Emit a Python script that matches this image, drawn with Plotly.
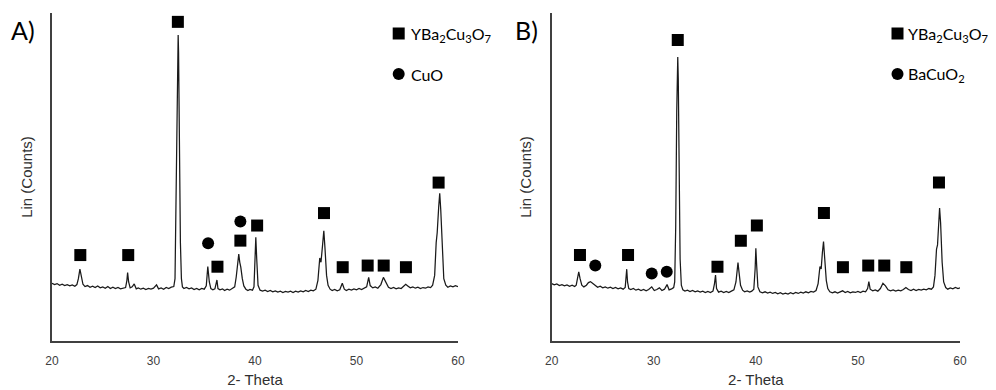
import plotly.graph_objects as go

# ---------------- data ----------------
scan_a = [
    (20.0, 17.6), (20.25, 17.2), (20.5, 17.5), (20.75, 17.0), (21.0, 17.3), (21.25, 16.9),
    (21.5, 17.2), (21.75, 16.8), (22.0, 17.1), (22.25, 16.7), (22.45, 17.2), (22.6, 19.0),
    (22.75, 21.9), (22.9, 19.2), (23.05, 17.3), (23.25, 16.6), (23.5, 16.9), (23.75, 16.4),
    (24.0, 16.7), (24.25, 16.3), (24.5, 16.8), (24.75, 16.2), (25.0, 16.5), (25.25, 16.1),
    (25.5, 16.6), (25.75, 16.0), (26.0, 16.4), (26.25, 16.0), (26.5, 16.3), (26.75, 15.9),
    (27.0, 16.2), (27.25, 16.3), (27.38, 18.5), (27.45, 20.9), (27.55, 18.0), (27.7, 16.2),
    (27.9, 16.5), (28.1, 17.4), (28.3, 15.9), (28.5, 16.2), (28.75, 15.8), (29.0, 16.1),
    (29.25, 15.7), (29.5, 16.0), (29.75, 15.8), (30.0, 16.1), (30.3, 17.1), (30.5, 15.9),
    (30.75, 16.2), (31.0, 15.8), (31.25, 16.3), (31.5, 16.0), (31.75, 16.4), (32.0, 16.6),
    (32.12, 19.0), (32.22, 40.0), (32.32, 75.0), (32.4, 90.0), (32.43, 93.3), (32.47, 88.0),
    (32.55, 60.0), (32.65, 30.0), (32.75, 19.0), (32.85, 16.5), (33.0, 16.0), (33.25, 16.3),
    (33.5, 15.9), (33.75, 16.2), (34.0, 15.7), (34.25, 16.0), (34.5, 15.6), (34.75, 16.0),
    (35.0, 15.8), (35.2, 16.8), (35.35, 22.7), (35.5, 18.0), (35.65, 16.0), (35.85, 15.6),
    (36.05, 15.9), (36.25, 18.6), (36.35, 16.0), (36.55, 15.6), (36.8, 15.9), (37.0, 15.4),
    (37.25, 15.8), (37.5, 15.5), (37.75, 16.0), (38.0, 16.5), (38.15, 19.5), (38.3, 24.5),
    (38.4, 26.5), (38.5, 24.0), (38.6, 22.5), (38.75, 19.0), (38.9, 16.8), (39.1, 15.8),
    (39.3, 15.4), (39.5, 15.7), (39.75, 15.5), (39.9, 16.5), (40.0, 24.0), (40.08, 31.6),
    (40.17, 25.0), (40.3, 17.0), (40.5, 15.5), (40.75, 15.2), (41.0, 15.5), (41.25, 15.1),
    (41.5, 15.4), (41.75, 15.0), (42.0, 15.3), (42.25, 14.9), (42.5, 15.2), (42.75, 14.8),
    (43.0, 15.1), (43.25, 14.9), (43.5, 15.2), (43.75, 14.8), (44.0, 15.2), (44.25, 14.9),
    (44.5, 15.3), (44.75, 15.0), (45.0, 15.4), (45.25, 15.1), (45.5, 15.5), (45.75, 15.3),
    (46.0, 15.8), (46.2, 18.5), (46.38, 25.3), (46.5, 24.0), (46.65, 29.0), (46.78, 33.6),
    (46.9, 28.0), (47.05, 20.0), (47.2, 17.0), (47.4, 15.8), (47.6, 15.4), (47.85, 15.7),
    (48.1, 15.3), (48.35, 15.6), (48.6, 17.6), (48.8, 15.8), (49.0, 15.4), (49.25, 15.8),
    (49.5, 15.5), (49.75, 15.9), (50.0, 15.6), (50.25, 16.0), (50.5, 15.7), (50.75, 16.1),
    (51.0, 16.5), (51.2, 19.4), (51.35, 16.9), (51.6, 16.2), (51.85, 16.5), (52.1, 16.1),
    (52.4, 17.2), (52.65, 19.4), (52.9, 17.8), (53.15, 16.4), (53.4, 16.0), (53.65, 16.3),
    (53.9, 15.9), (54.15, 16.2), (54.4, 16.0), (54.65, 16.7), (54.85, 17.3), (55.05, 16.8),
    (55.3, 16.2), (55.55, 16.5), (55.8, 16.1), (56.05, 16.4), (56.3, 16.0), (56.55, 16.3),
    (56.8, 16.1), (57.05, 16.5), (57.3, 16.3), (57.5, 17.0), (57.7, 20.0), (57.85, 30.0),
    (57.95, 33.0), (58.1, 41.0), (58.2, 45.0), (58.3, 40.0), (58.45, 27.0), (58.6, 19.0),
    (58.8, 17.0), (59.0, 16.4), (59.25, 16.8), (59.5, 16.5), (59.75, 16.9), (60.0, 16.6),
]

scan_b = [
    (20.0, 17.5), (20.25, 17.1), (20.5, 17.4), (20.75, 16.9), (21.0, 17.2), (21.25, 16.8),
    (21.5, 17.1), (21.75, 16.7), (22.0, 17.0), (22.25, 16.6), (22.4, 17.0), (22.52, 19.0),
    (22.65, 21.1), (22.78, 19.0), (22.95, 17.0), (23.15, 16.5), (23.4, 17.0), (23.6, 17.8),
    (23.8, 18.1), (24.0, 17.6), (24.25, 16.9), (24.5, 16.4), (24.75, 16.7), (25.0, 16.2),
    (25.25, 16.5), (25.5, 16.1), (25.75, 16.4), (26.0, 16.0), (26.25, 16.3), (26.5, 15.9),
    (26.75, 16.2), (27.0, 15.8), (27.2, 16.3), (27.28, 18.5), (27.35, 21.9), (27.43, 18.0),
    (27.55, 16.0), (27.75, 15.7), (28.0, 16.0), (28.25, 15.5), (28.5, 15.8), (28.75, 15.4),
    (29.0, 15.7), (29.25, 15.3), (29.5, 15.7), (29.8, 16.5), (30.05, 15.4), (30.3, 15.7),
    (30.55, 16.2), (30.8, 15.4), (31.05, 15.8), (31.3, 17.2), (31.5, 15.6), (31.75, 15.9),
    (31.95, 16.3), (32.05, 18.0), (32.15, 35.0), (32.25, 70.0), (32.32, 84.0), (32.35, 86.6),
    (32.4, 80.0), (32.48, 50.0), (32.58, 25.0), (32.7, 17.0), (32.85, 15.6), (33.05, 15.2),
    (33.3, 15.5), (33.55, 15.1), (33.8, 15.4), (34.05, 15.0), (34.3, 15.3), (34.55, 14.9),
    (34.8, 15.2), (35.05, 14.8), (35.3, 15.1), (35.55, 14.8), (35.8, 15.2), (35.95, 17.5),
    (36.05, 20.1), (36.15, 16.0), (36.35, 14.9), (36.6, 15.2), (36.85, 14.8), (37.1, 15.1),
    (37.35, 14.8), (37.6, 15.2), (37.85, 15.6), (38.05, 18.0), (38.18, 22.5), (38.25, 23.9),
    (38.35, 21.0), (38.5, 17.0), (38.7, 15.5), (38.9, 15.0), (39.15, 15.3), (39.4, 14.9),
    (39.6, 15.2), (39.8, 15.8), (39.93, 22.0), (40.0, 28.3), (40.08, 23.0), (40.2, 16.5),
    (40.4, 15.0), (40.65, 14.7), (40.9, 15.0), (41.15, 14.6), (41.4, 14.9), (41.65, 14.5),
    (41.9, 14.8), (42.15, 14.4), (42.4, 14.7), (42.65, 14.3), (42.9, 14.6), (43.15, 14.3),
    (43.4, 14.7), (43.65, 14.4), (43.9, 14.8), (44.15, 14.5), (44.4, 14.9), (44.65, 14.6),
    (44.9, 15.0), (45.15, 14.7), (45.4, 15.1), (45.65, 14.9), (45.9, 15.4), (46.1, 17.5),
    (46.28, 22.7), (46.4, 22.0), (46.52, 27.0), (46.63, 30.3), (46.75, 25.0), (46.9, 18.5),
    (47.05, 16.0), (47.25, 15.0), (47.5, 14.7), (47.75, 15.0), (48.0, 14.6), (48.25, 14.9),
    (48.5, 15.3), (48.75, 14.8), (49.0, 15.1), (49.25, 14.7), (49.5, 15.0), (49.75, 14.8),
    (50.0, 15.1), (50.25, 14.8), (50.5, 15.2), (50.75, 15.0), (50.95, 16.0), (51.07, 18.1),
    (51.2, 15.8), (51.45, 15.3), (51.7, 15.6), (51.95, 15.2), (52.2, 16.0), (52.45, 17.6),
    (52.7, 16.8), (52.95, 15.6), (53.2, 15.3), (53.45, 15.6), (53.7, 15.2), (53.95, 15.5),
    (54.2, 15.3), (54.45, 15.7), (54.7, 16.3), (54.95, 15.7), (55.2, 15.4), (55.45, 15.8),
    (55.7, 15.4), (55.95, 15.7), (56.2, 15.5), (56.45, 15.8), (56.7, 15.6), (56.95, 16.0),
    (57.2, 15.8), (57.4, 16.5), (57.55, 20.0), (57.7, 28.0), (57.8, 29.3), (57.9, 35.0),
    (58.0, 40.5), (58.1, 36.0), (58.25, 24.0), (58.4, 18.0), (58.6, 16.3), (58.8, 15.8),
    (59.05, 16.2), (59.3, 15.9), (59.55, 16.3), (59.8, 16.0), (60.0, 16.2),
]

# phase markers
ybco_a_x = [22.79, 27.51, 32.40, 36.30, 38.56, 40.21, 46.80, 48.64, 51.10, 52.68, 54.87, 58.09]
ybco_a_y = [26.2, 26.2, 97.3, 22.65, 30.6, 35.2, 39.0, 22.5, 23.0, 23.0, 22.5, 48.3]
cuo_a_x = [35.38, 38.56]
cuo_a_y = [29.8, 36.4]

ybco_b_x = [22.77, 27.48, 32.35, 36.24, 38.53, 40.10, 46.67, 48.53, 51.01, 52.58, 54.74, 57.94]
ybco_b_y = [26.2, 26.2, 91.8, 22.6, 30.6, 35.2, 39.0, 22.5, 23.0, 23.0, 22.5, 48.3]
bacuo2_b_x = [24.27, 29.80, 31.27]
bacuo2_b_y = [23.0, 20.6, 21.1]

x_ticks = [20, 30, 40, 50, 60]
panel_labels = ["A)", "B)"]
name_ybco = "YBa<sub>2</sub>Cu<sub>3</sub>O<sub>7</sub>"
legend_names = [[name_ybco, "CuO"], [name_ybco, "BaCuO<sub>2</sub>"]]

theta_a, counts_a = map(list, zip(*scan_a))
theta_b, counts_b = map(list, zip(*scan_b))

# ---------------- figure ----------------
# the page body adds an 8 px margin; positions below are given in window pixels
OFF = 8
W, H = 996 - 2 * OFF, 390 - OFF
ML, MT = 52 - OFF, 13 - OFF
MR = W - (960 - OFF)
MB = H - (341 - OFF)
PW = W - ML - MR
PH = H - MT - MB

def px_x(px):
    return (px - OFF - ML) / PW

def px_y(py):
    return (H - MB - (py - OFF)) / PH

def dom(px0, px1):
    return [max(0.0, px_x(px0)), min(1.0, px_x(px1))]

fig = go.Figure()
line_col = "#1a1a1a"
mk_col = "#000000"

fig.add_trace(go.Scatter(x=theta_a, y=counts_a, mode="lines", line=dict(color=line_col, width=1.25),
                         xaxis="x", yaxis="y", showlegend=False, hoverinfo="skip"))
fig.add_trace(go.Scatter(x=ybco_a_x, y=ybco_a_y, mode="markers", name="YBa2Cu3O7",
                         marker=dict(symbol="square", size=12, color=mk_col),
                         xaxis="x", yaxis="y", showlegend=False))
fig.add_trace(go.Scatter(x=cuo_a_x, y=cuo_a_y, mode="markers", name="CuO",
                         marker=dict(symbol="circle", size=12, color=mk_col),
                         xaxis="x", yaxis="y", showlegend=False))

fig.add_trace(go.Scatter(x=theta_b, y=counts_b, mode="lines", line=dict(color=line_col, width=1.25),
                         xaxis="x2", yaxis="y2", showlegend=False, hoverinfo="skip"))
fig.add_trace(go.Scatter(x=ybco_b_x, y=ybco_b_y, mode="markers", name="YBa2Cu3O7",
                         marker=dict(symbol="square", size=12, color=mk_col),
                         xaxis="x2", yaxis="y2", showlegend=False))
fig.add_trace(go.Scatter(x=bacuo2_b_x, y=bacuo2_b_y, mode="markers", name="BaCuO2",
                         marker=dict(symbol="circle", size=12, color=mk_col),
                         xaxis="x2", yaxis="y2", showlegend=False))

axis_col = "#404040"
tick_font = dict(family="Liberation Sans, Arial, sans-serif", size=12, color="#404040")
title_font = dict(family="Liberation Sans, Arial, sans-serif", size=15, color="#303030")

def xaxis(domain, anchor):
    return dict(domain=domain, anchor=anchor, range=[20, 60], tickvals=x_ticks, automargin=False,
                showgrid=False, zeroline=False, showline=True, linecolor=axis_col, linewidth=2,
                ticks="", tickfont=tick_font, ticklabelstandoff=8,
                title=dict(text="2- Theta", font=title_font, standoff=7))

def yaxis(anchor):
    return dict(domain=[0, 1], anchor=anchor, range=[0, 100], showgrid=False, zeroline=False,
                automargin=False,
                showline=True, linecolor=axis_col, linewidth=2, ticks="", showticklabels=False,
                title=dict(text="Lin (Counts)", font=title_font, standoff=14))

fig.update_layout(
    width=W, height=H, margin=dict(l=ML, r=MR, t=MT, b=MB),
    paper_bgcolor="white", plot_bgcolor="white", showlegend=False,
    xaxis=xaxis(dom(51.7, 458), "y"), yaxis=yaxis("x"),
    xaxis2=xaxis(dom(551.7, 960), "y2"), yaxis2=yaxis("x2"),
)

# panel labels and phase key
lab_font = dict(family="Lato, Carlito, Calibri, sans-serif", size=25, color="#000000")
key_font = dict(family="Lato, Carlito, Calibri, sans-serif", size=16, color="#000000")
label_px = [9, 513]
key_px = [398.7, 897.5]
key_text_px = [408.5, 906.0]
key_rows = [33.5, 74.0]
annotations = []
shapes = []
for i in range(2):
    annotations.append(dict(text=panel_labels[i], x=px_x(label_px[i]), y=px_y(30), xref="paper", yref="paper",
                            xanchor="left", yanchor="middle", showarrow=False, font=lab_font))
    cx = key_px[i]
    for j, ry in enumerate(key_rows):
        annotations.append(dict(text=legend_names[i][j], x=px_x(key_text_px[i]), y=px_y(ry + 1),
                                xref="paper", yref="paper", xanchor="left", yanchor="middle",
                                showarrow=False, font=key_font))
        kind = "rect" if j == 0 else "circle"
        shapes.append(dict(type=kind, xref="paper", yref="paper",
                           x0=px_x(cx - 6), x1=px_x(cx + 6), y0=px_y(ry + 6), y1=px_y(ry - 6),
                           fillcolor="#000000", line=dict(width=0)))
fig.update_layout(annotations=annotations, shapes=shapes)

fig.write_html("out.html")
